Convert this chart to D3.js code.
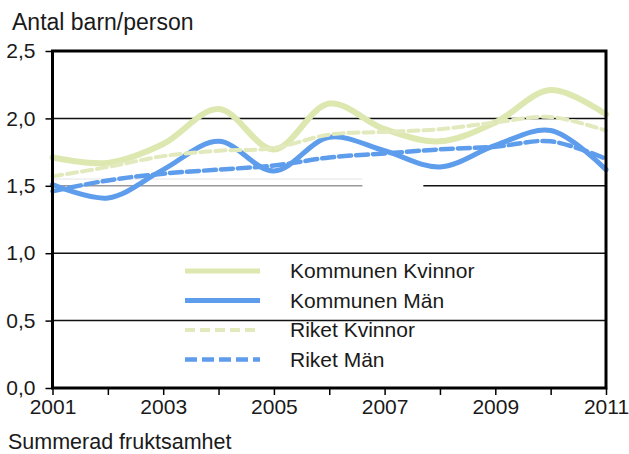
<!DOCTYPE html>
<html>
<head>
<meta charset="utf-8">
<style>
  body { margin: 0; background: #fff; }
  text { font-family: "Liberation Sans", Arial, sans-serif; fill: #1a1a1a; }
</style>
</head>
<body>
<svg width="629" height="454"></svg>
<script src="https://d3js.org/d3.v7.min.js"></script>
<script>

var years = [2001, 2002, 2003, 2004, 2005, 2006, 2007, 2008, 2009, 2010, 2011];
var kommunenKvinnor = [1.71, 1.67, 1.81, 2.07, 1.77, 2.11, 1.92, 1.83, 1.97, 2.21, 2.03];
var kommunenMan     = [1.51, 1.41, 1.62, 1.83, 1.61, 1.86, 1.76, 1.64, 1.80, 1.91, 1.62];
var riketKvinnor    = [1.57, 1.64, 1.72, 1.76, 1.78, 1.88, 1.90, 1.92, 1.97, 2.01, 1.91];
var riketMan        = [1.46, 1.54, 1.59, 1.62, 1.65, 1.71, 1.74, 1.77, 1.79, 1.83, 1.70];
var yTicks = [0, 0.5, 1.0, 1.5, 2.0, 2.5];
var xLabels = [2001, 2003, 2005, 2007, 2009, 2011];

var series = [
  {name: "Kommunen Kvinnor", values: kommunenKvinnor, color: "#dde7b0", width: 6, legendWidth: 5, dash: null},
  {name: "Kommunen Män",     values: kommunenMan,     color: "#5e9cec", width: 5, legendWidth: 5, dash: null},
  {name: "Riket Kvinnor",    values: riketKvinnor,    color: "#e2eabd", width: 4, legendWidth: 4, dash: "10,5"},
  {name: "Riket Män",        values: riketMan,        color: "#5e9cec", width: 4.5, legendWidth: 4.5, dash: "12,5"}
];

var svg = d3.select("svg");

var x = d3.scaleLinear().domain([2001, 2011]).range([52.5, 606]);
var y = d3.scaleLinear().domain([0, 2.5]).range([388, 51]);

// grid lines
[0.5, 1.0, 2.0].forEach(function(v) {
  svg.append("line")
      .attr("x1", x(2001)).attr("x2", x(2011))
      .attr("y1", y(v)).attr("y2", y(v))
      .attr("stroke", "#111").attr("stroke-width", 1.5);
});
// the 1,5 line is broken in the scan: grey on the left, black on the right
svg.append("line")
    .attr("x1", x(2001)).attr("x2", x(2006.6))
    .attr("y1", y(1.5)).attr("y2", y(1.5))
    .attr("stroke", "#999").attr("stroke-width", 1.5);
svg.append("line")
    .attr("x1", x(2001)).attr("x2", x(2006.6))
    .attr("y1", y(1.55)).attr("y2", y(1.55))
    .attr("stroke", "#e4e4e4").attr("stroke-width", 1);
svg.append("line")
    .attr("x1", x(2007.7)).attr("x2", x(2011))
    .attr("y1", y(1.5)).attr("y2", y(1.5))
    .attr("stroke", "#111").attr("stroke-width", 1.5);

var line = d3.line()
    .x(function(d, i) { return x(years[i]); })
    .y(function(d) { return y(d); })
    .curve(d3.curveCatmullRom.alpha(0.5));

svg.selectAll(".series")
  .data(series)
  .enter().append("path")
    .attr("class", "series")
    .attr("fill", "none")
    .attr("stroke", function(d) { return d.color; })
    .attr("stroke-width", function(d) { return d.width; })
    .attr("stroke-dasharray", function(d) { return d.dash; })
    .attr("stroke-linecap", "round")
    .attr("d", function(d) { return line(d.values); });

// frame
svg.append("rect")
    .attr("x", x(2001)).attr("y", y(2.5))
    .attr("width", x(2011) - x(2001)).attr("height", y(0) - y(2.5))
    .attr("fill", "none").attr("stroke", "#000").attr("stroke-width", 3);

// y axis
var yAxis = svg.append("g")
    .attr("transform", "translate(" + x(2001) + ",0)")
    .call(d3.axisLeft(y).tickValues(yTicks).tickSize(7).tickPadding(10)
      .tickFormat(function(d) { return d3.format(".1f")(d).replace(".", ","); }));
yAxis.select(".domain").remove();
yAxis.selectAll("line").attr("stroke", "#000").attr("stroke-width", 1.5);
yAxis.selectAll("text").attr("font-size", "21px").attr("fill", "#1a1a1a")
    .attr("font-family", "Liberation Sans, Arial, sans-serif");

// x axis
var xAxis = svg.append("g")
    .attr("transform", "translate(0," + y(0) + ")")
    .call(d3.axisBottom(x).tickValues(years).tickSize(7).tickPadding(4)
      .tickFormat(function(d) { return xLabels.indexOf(d) >= 0 ? d : ""; }));
xAxis.select(".domain").remove();
xAxis.selectAll("line").attr("stroke", "#000").attr("stroke-width", 1.5);
xAxis.selectAll("text").attr("font-size", "21px").attr("fill", "#1a1a1a")
    .attr("font-family", "Liberation Sans, Arial, sans-serif");

// titles
svg.append("text").attr("x", 12).attr("y", 30)
    .attr("font-size", "23px").text("Antal barn/person");
svg.append("text").attr("x", 8).attr("y", 449)
    .attr("font-size", "21.5px").text("Summerad fruktsamhet");

// legend
var legend = svg.selectAll(".legend")
  .data(series)
  .enter().append("g")
    .attr("class", "legend")
    .attr("transform", function(d, i) { return "translate(185," + (271 + i * 29.5) + ")"; });
legend.append("line")
    .attr("x1", 0).attr("x2", 75)
    .attr("stroke", function(d) { return d.color; })
    .attr("stroke-width", function(d) { return d.legendWidth; })
    .attr("stroke-dasharray", function(d) { return d.dash; });
legend.append("text")
    .attr("x", 105).attr("dy", "0.35em")
    .attr("font-size", "21px")
    .text(function(d) { return d.name; });

</script>
</body>
</html>
